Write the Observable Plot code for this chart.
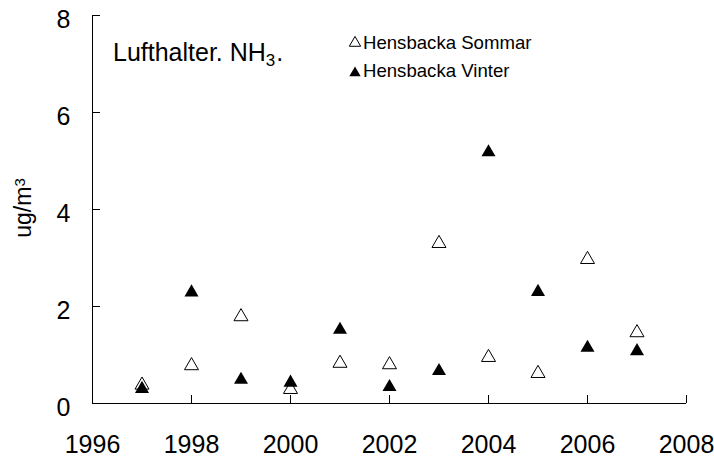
<!DOCTYPE html>
<html>
<head>
<meta charset="utf-8">
<script src="https://cdn.jsdelivr.net/npm/d3@7"></script>
<script src="https://cdn.jsdelivr.net/npm/@observablehq/plot@0.6"></script>
<style>
  body { margin: 0; background: #fff; }
  #chart { width: 714px; height: 460px; }
</style>
</head>
<body>
<div id="chart"></div>
<script>
// Data
const years = [1997, 1998, 1999, 2000, 2001, 2002, 2003, 2004, 2005, 2006, 2007];
const sommar = [0.38, 0.78, 1.79, 0.29, 0.83, 0.80, 3.30, 0.95, 0.62, 2.97, 1.46];
const vinter = [0.30, 2.29, 0.49, 0.43, 1.52, 0.34, 0.67, 5.18, 2.30, 1.15, 1.08];
const seriesNames = ["Hensbacka Sommar", "Hensbacka Vinter"];
const xTicks = [1996, 1998, 2000, 2002, 2004, 2006, 2008];
const yTicks = [0, 2, 4, 6, 8];
const titleMain = "Lufthalter. NH";
const titleSub = "3";
const yLabelMain = "ug/m";
const yLabelSup = "3";

const sommarData = years.map((year, i) => ({year, value: sommar[i]}));
const vinterData = years.map((year, i) => ({year, value: vinter[i]}));

const font = "'Liberation Sans', Arial, sans-serif";

const chart = Plot.plot({
  width: 714,
  height: 460,
  marginLeft: 92,
  marginRight: 28,
  marginTop: 15,
  marginBottom: 57,
  style: {fontFamily: font, background: "#fff", color: "#000"},
  x: {domain: [1996, 2008], label: null},
  y: {domain: [0, 8], label: null},
  marks: [
    Plot.ruleY([0], {stroke: "#000"}),
    Plot.ruleX([1996], {stroke: "#000"}),
    Plot.axisX(xTicks, {tickSize: -8, tickFormat: () => ""}),
    Plot.axisX(xTicks, {tickSize: 0, tickPadding: 32, tickFormat: "d", fontSize: 25}),
    Plot.axisY(yTicks, {tickSize: -8, tickFormat: () => ""}),
    Plot.axisY(yTicks, {tickSize: 0, tickPadding: 22, dy: 4, fontSize: 25}),
    Plot.dot(sommarData, {x: "year", y: "value", symbol: "triangle", r: 5.2, stroke: "#000", strokeWidth: 1, fill: "#fff"}),
    Plot.dot(vinterData, {x: "year", y: "value", symbol: "triangle", r: 5.2, fill: "#000", stroke: "none"})
  ]
});

document.getElementById("chart").appendChild(chart);

const svg = d3.select(chart);

// Title
const t = svg.append("text")
  .attr("x", 113).attr("y", 61)
  .attr("text-anchor", "start")
  .attr("font-family", font).attr("font-size", 25).attr("fill", "#000");
t.append("tspan").text(titleMain);
t.append("tspan").attr("font-size", 17).attr("dx", 0).attr("dy", 5).text(titleSub);
t.append("tspan").attr("font-size", 25).attr("dx", 1).attr("dy", -5).text(".");

// Y label
const yl = svg.append("text")
  .attr("transform", "translate(31,208) rotate(-90)")
  .attr("text-anchor", "middle")
  .attr("font-family", font).attr("font-size", 23).attr("fill", "#000");
yl.append("tspan").text(yLabelMain);
yl.append("tspan").attr("font-size", 15).attr("dy", -6).text(yLabelSup);

// Legend
const legend = [
  {name: seriesNames[0], fill: "#fff", stroke: "#000", y: 43, base: 49},
  {name: seriesNames[1], fill: "#000", stroke: "none", y: 73, base: 77}
];
const sym = d3.symbol(d3.symbolTriangle, 56);
legend.forEach(l => {
  svg.append("path").attr("d", sym())
    .attr("transform", `translate(355,${l.y})`)
    .attr("fill", l.fill).attr("stroke", l.stroke);
  svg.append("text").attr("x", 363).attr("y", l.base)
    .attr("text-anchor", "start")
    .attr("font-family", font).attr("font-size", 18.6).attr("fill", "#000")
    .text(l.name);
});
</script>
</body>
</html>
